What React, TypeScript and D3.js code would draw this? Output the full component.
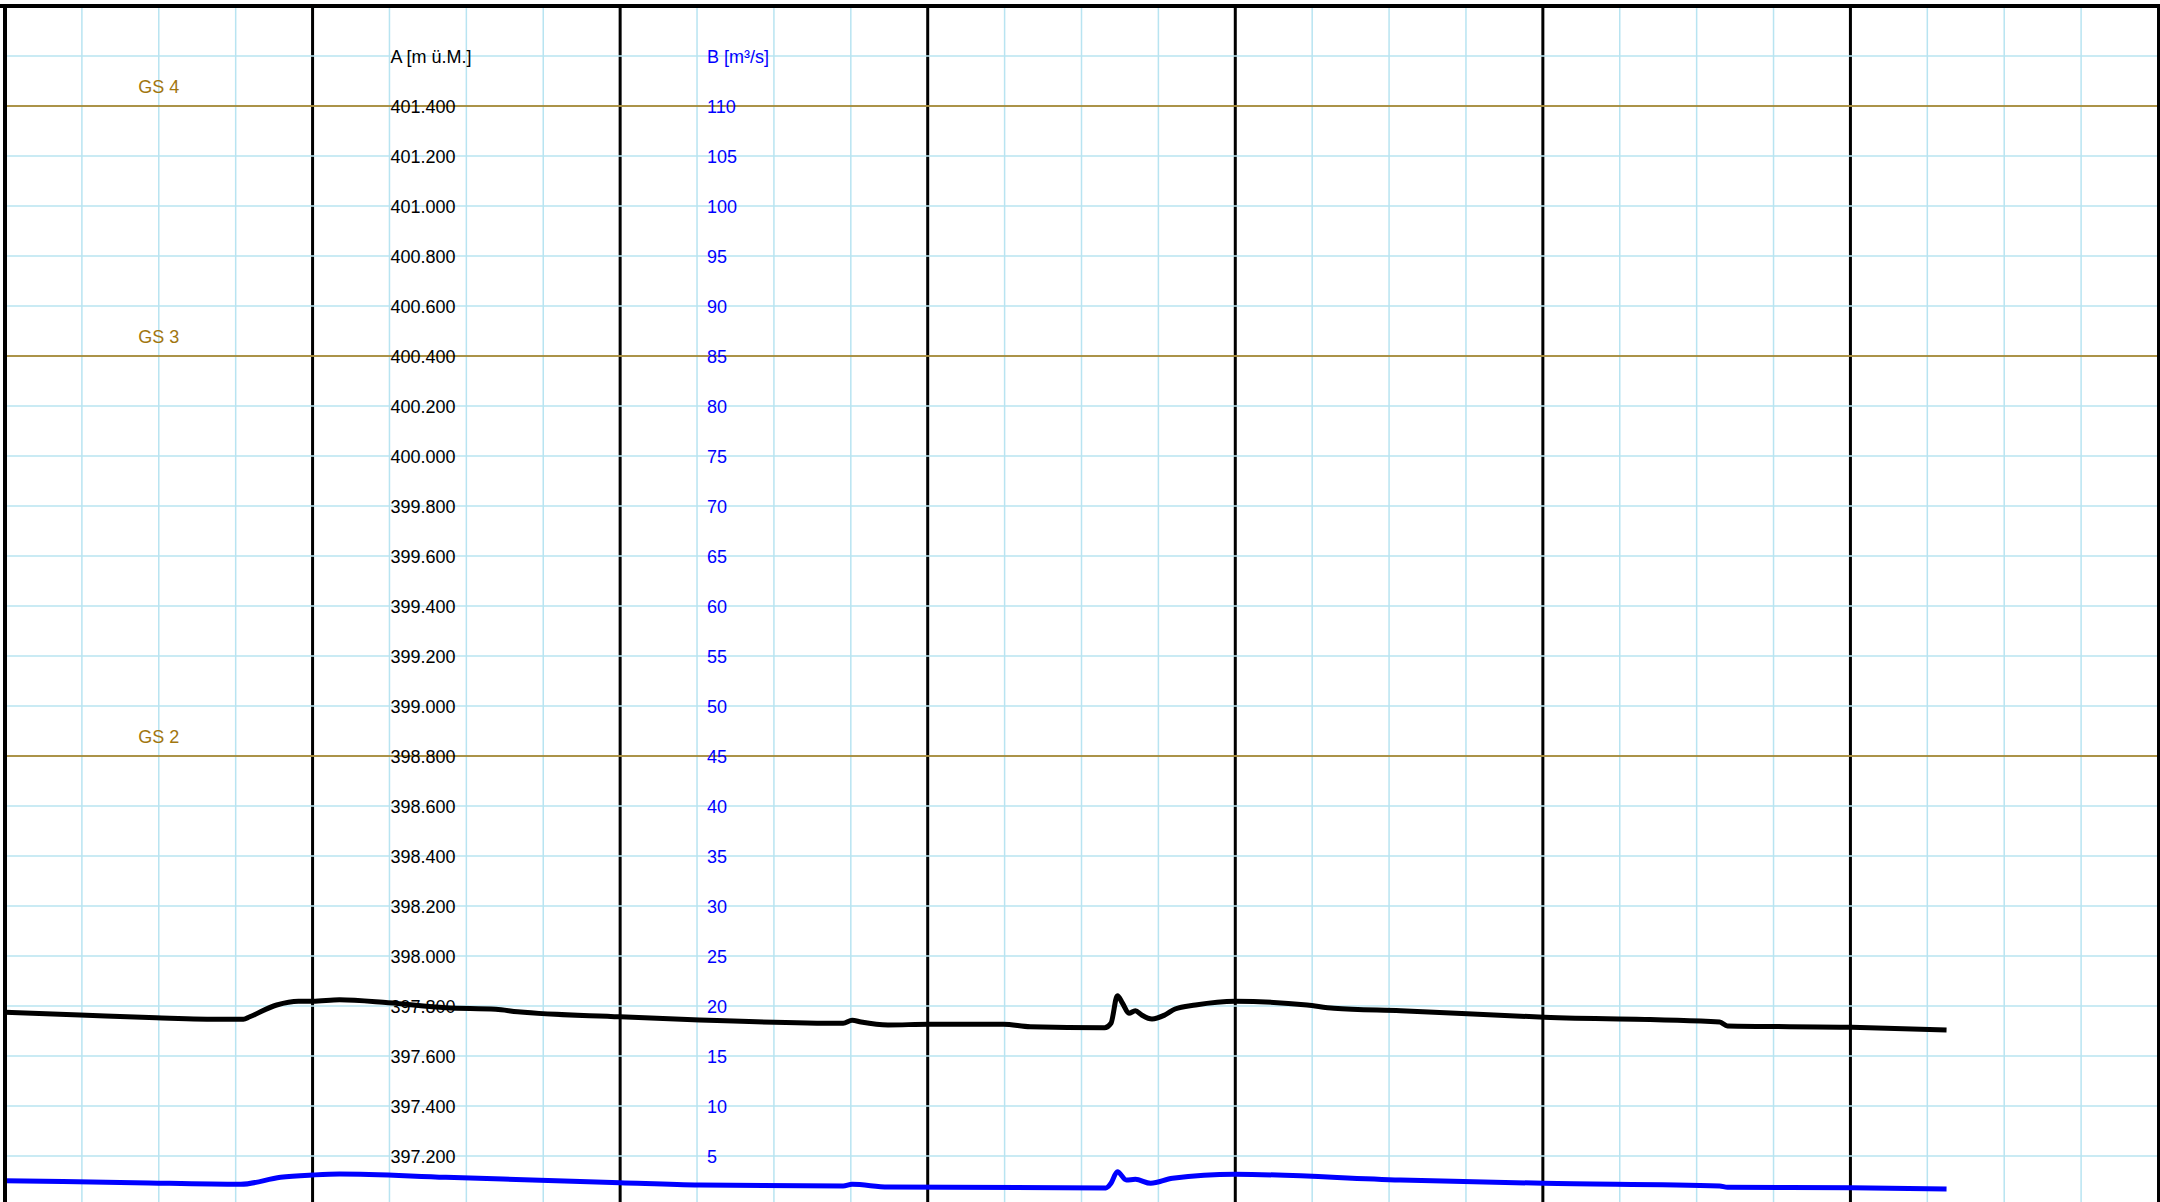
import React from "react";
import * as d3 from "d3";

const W = 2160;
const H = 1202;

// x axis: hours over 7 days
const xDomain = [0, 168];
const minorStepHours = 6;
const majorStepHours = 24;

// Series A (water level, m ü.M.)
const hoursA = [0, 5.85, 11.8, 17.0, 18.6, 19.1, 21.2, 22.9, 24.0, 26.1, 29.9, 34.4, 38.3, 40.0, 48.0, 54.2, 65.4, 66.1, 66.8, 68.9, 72.1, 77.9, 80.0, 85.8, 86.3, 86.8, 87.2, 87.7, 88.2, 88.7, 89.5, 90.5, 91.3, 92.9, 96.0, 101.6, 103.7, 108.9, 120.1, 133.8, 134.4, 144.1, 151.5];
const valuesA = [397.775, 397.764, 397.753, 397.747, 397.747, 397.757, 397.804, 397.819, 397.819, 397.825, 397.813, 397.793, 397.787, 397.777, 397.757, 397.744, 397.731, 397.743, 397.736, 397.724, 397.727, 397.727, 397.717, 397.713, 397.731, 397.841, 397.811, 397.771, 397.781, 397.764, 397.748, 397.764, 397.788, 397.804, 397.819, 397.804, 397.791, 397.781, 397.755, 397.736, 397.720, 397.715, 397.704];

// Series B (discharge, m3/s)
const hoursB = [0, 10.1, 18.4, 21.5, 24.0, 26.1, 34.4, 48.0, 54.2, 65.4, 66.1, 68.9, 85.9, 86.3, 86.8, 87.5, 88.2, 89.4, 91.1, 96.0, 108.9, 120.1, 133.8, 134.4, 144.1, 151.5];
const valuesB = [2.53, 2.33, 2.17, 2.87, 3.1, 3.2, 2.87, 2.33, 2.1, 2.0, 2.17, 1.9, 1.8, 2.27, 3.43, 2.6, 2.67, 2.27, 2.77, 3.17, 2.6, 2.27, 2.0, 1.87, 1.83, 1.7];

// Axis A
const domainA = [397.0, 401.8];
const ticksA = [397.2, 397.4, 397.6, 397.8, 398.0, 398.2, 398.4, 398.6, 398.8, 399.0, 399.2, 399.4, 399.6, 399.8, 400.0, 400.2, 400.4, 400.6, 400.8, 401.0, 401.2, 401.4];
const titleA = "A [m ü.M.]";
const titleAValue = 401.6;

// Axis B
const domainB = [0, 120];
const ticksB = [5, 10, 15, 20, 25, 30, 35, 40, 45, 50, 55, 60, 65, 70, 75, 80, 85, 90, 95, 100, 105, 110];
const titleB = "B [m³/s]";
const titleBValue = 115;

// Threshold lines
const gsNames = ["GS 4", "GS 3", "GS 2"];
const gsValues = [401.4, 400.4, 398.8];
const gsLabelHour = 12;

const GRID = "#b8e4f1";
const GOLD = "#a1760f";
const BLUE = "#0000ff";
const FONT = "'Liberation Sans', Arial, Helvetica, sans-serif";

export default function App() {
  const left = 5;
  const right = 2158;
  const top = 6;
  const bottom = 1206;

  const x = d3.scaleLinear().domain(xDomain).range([left, right]);
  const yA = d3.scaleLinear().domain(domainA).range([bottom, top]);
  const yB = d3.scaleLinear().domain(domainB).range([bottom, top]);

  const minor = d3.range(xDomain[0] + minorStepHours, xDomain[1], minorStepHours);
  const major = d3.range(xDomain[0] + majorStepHours, xDomain[1], majorStepHours);
  const hGrid = d3.range(0, 25).map((i) => domainA[0] + i * 0.2);

  const lineA = d3
    .line<number>()
    .x((_, i) => x(hoursA[i]))
    .y((d) => yA(d))
    .curve(d3.curveMonotoneX);
  const lineB = d3
    .line<number>()
    .x((_, i) => x(hoursB[i]))
    .y((d) => yB(d))
    .curve(d3.curveMonotoneX);

  const fmtA = d3.format(".3f");
  const labelAX = x(30) + 1;
  const labelBX = x(54) + 10;
  const dy = 6.5;

  return (
    <svg
      width={W}
      height={H}
      style={{ position: "absolute", left: 0, top: 0, background: "#fff" }}
      fontFamily={FONT}
    >
      <rect x={0} y={0} width={W} height={H} fill="#fff" />
      <defs>
        <clipPath id="plot">
          <rect x={left} y={top} width={right - left} height={bottom - top} />
        </clipPath>
      </defs>
      {/* minor vertical grid */}
      {minor.map((h) => (
        <line key={"mv" + h} x1={x(h)} x2={x(h)} y1={top} y2={H} stroke={GRID} strokeWidth={1.5} />
      ))}
      {/* major vertical lines */}
      {major.map((h) => (
        <line key={"Mv" + h} x1={x(h)} x2={x(h)} y1={top} y2={H} stroke="#000" strokeWidth={3} />
      ))}
      {/* horizontal grid */}
      {hGrid.map((v, i) => (
        <line key={"hg" + i} x1={left} x2={right} y1={yA(v)} y2={yA(v)} stroke={GRID} strokeWidth={1.5} />
      ))}
      {/* GS lines */}
      {gsValues.map((v, i) => (
        <g key={"gs" + i}>
          <line x1={left} x2={right} y1={yA(v)} y2={yA(v)} stroke={GOLD} strokeWidth={1.5} />
          <text x={x(gsLabelHour)} y={yA(v) - 13} fill={GOLD} fontSize={18} textAnchor="middle">
            {gsNames[i]}
          </text>
        </g>
      ))}
      {/* A axis labels */}
      <text x={labelAX} y={yA(titleAValue) + dy} fontSize={18} fill="#000">
        {titleA}
      </text>
      {ticksA.map((v) => (
        <text key={"ta" + v} x={labelAX} y={yA(v) + dy} fontSize={18} fill="#000">
          {fmtA(v)}
        </text>
      ))}
      {/* B axis labels */}
      <text x={labelBX} y={yB(titleBValue) + dy} fontSize={18} fill={BLUE}>
        {titleB}
      </text>
      {ticksB.map((v) => (
        <text key={"tb" + v} x={labelBX} y={yB(v) + dy} fontSize={18} fill={BLUE}>
          {v}
        </text>
      ))}
      {/* data lines */}
      <g clipPath="url(#plot)">
        <path d={lineA(valuesA) || ""} fill="none" stroke="#000" strokeWidth={5} strokeLinejoin="round" />
        <path d={lineB(valuesB) || ""} fill="none" stroke={BLUE} strokeWidth={5} strokeLinejoin="round" />
      </g>
      {/* borders */}
      <line x1={0} x2={W} y1={top} y2={top} stroke="#000" strokeWidth={4} />
      <line x1={left} x2={left} y1={top} y2={H} stroke="#000" strokeWidth={4} />
      <line x1={right + 0.5} x2={right + 0.5} y1={top} y2={H} stroke="#000" strokeWidth={3} />
    </svg>
  );
}
